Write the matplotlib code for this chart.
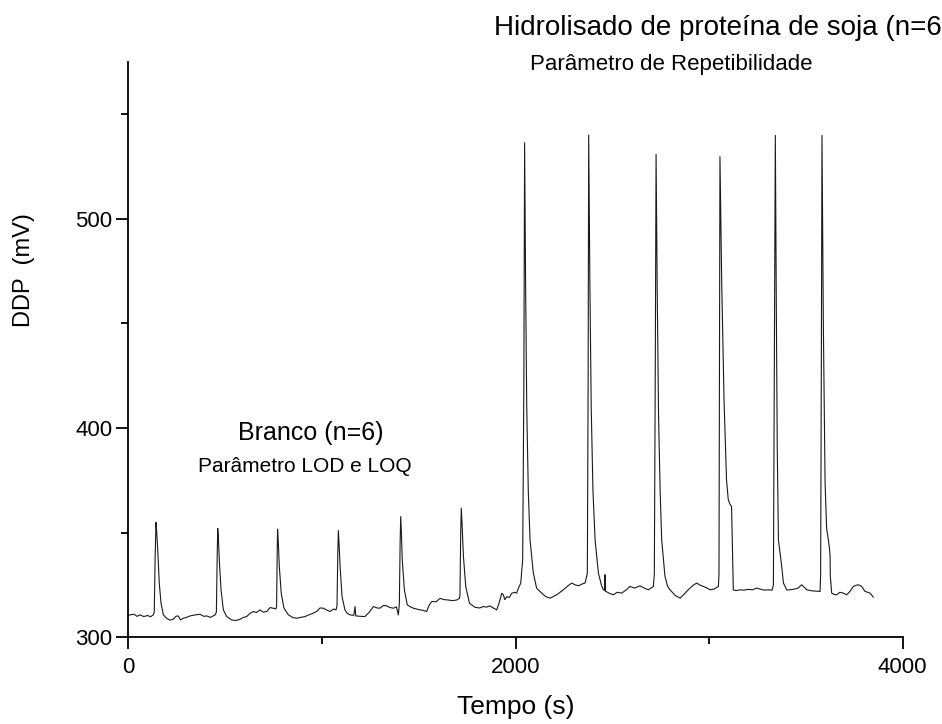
import matplotlib
matplotlib.use("Agg")
import matplotlib.pyplot as plt
from matplotlib.ticker import MultipleLocator

# Trace: time (s) and potential difference (mV)
time_s = [
    0, 9, 30, 45, 60, 80, 100, 115, 129,
    134, 139, 143, 147, 152, 160, 169, 181, 198,
    215, 232, 245, 258, 270, 284, 300, 319, 340, 370, 390, 405, 425, 448,
    455, 459, 462, 466, 470, 479, 491, 508, 534,
    555, 577, 595, 611, 630, 646, 662, 680, 697, 715, 732, 749, 763,
    766, 769, 771, 775, 780, 790, 804, 827, 850, 870,
    890, 913, 935, 956, 975, 990, 1007, 1025, 1042, 1060, 1073,
    1078, 1082, 1085, 1089, 1094, 1104, 1119, 1130, 1145, 1165, 1171, 1175, 1200, 1222,
    1245, 1266, 1285, 1300, 1318, 1334, 1352, 1369, 1385, 1395,
    1400, 1404, 1407, 1411, 1415, 1426, 1441, 1456, 1472, 1490, 1507, 1525, 1541,
    1555, 1567, 1590, 1610, 1630, 1653, 1675, 1696, 1710,
    1713, 1717, 1720, 1725, 1731, 1743, 1762, 1791, 1815, 1834, 1850, 1868, 1885, 1903,
    1915, 1929, 1937, 1945, 1955, 1968, 1980, 1995, 2006, 2015, 2027, 2037,
    2043, 2047, 2052, 2058, 2066, 2075, 2092, 2109, 2135, 2155, 2178, 2195, 2213,
    2230, 2247, 2270, 2290, 2310, 2325, 2345, 2359, 2371,
    2375, 2378, 2384, 2391, 2400, 2411, 2428, 2445, 2454, 2460, 2462, 2464, 2467,
    2485, 2505, 2525, 2548, 2570, 2591, 2615, 2643, 2665, 2686, 2700, 2712,
    2717, 2722, 2726, 2732, 2739, 2747, 2755, 2772, 2785, 2798, 2825, 2850, 2875,
    2901, 2920, 2936, 2955, 2970, 2990, 3005, 3025, 3048,
    3051, 3054, 3056, 3065, 3077, 3090, 3099, 3108, 3116, 3121, 3125,
    3140, 3160, 3180, 3200, 3225, 3245, 3265, 3285, 3305, 3325, 3332,
    3337, 3342, 3347, 3352, 3358, 3375, 3384, 3401, 3418, 3440, 3460, 3478, 3490,
    3504, 3530, 3555, 3573,
    3576, 3580, 3583, 3590, 3599, 3607, 3616, 3622, 3625, 3626, 3629, 3633, 3645,
    3659, 3675, 3693, 3711, 3728, 3745, 3758, 3771, 3788, 3805, 3820, 3831, 3848,
]
ddp_mv = [
    310.5, 310.7, 311.0, 310.0, 310.7, 309.9, 310.4, 309.8, 310.7,
    312.0, 340.0, 354.9, 350.0, 341.8, 325.8, 316.3, 310.7, 309.1,
    308.2, 308.6, 310.0, 310.2, 308.3, 309.1, 309.5, 310.2, 310.6, 311.0, 310.0, 310.2, 309.5, 310.7,
    312.0, 338.0, 352.0, 346.0, 337.0, 322.6, 313.1, 309.9, 308.3,
    308.0, 308.6, 309.5, 309.9, 311.5, 312.3, 311.8, 313.1, 312.0, 312.3, 314.2, 313.9, 313.6,
    315.0, 340.0, 351.7, 345.0, 333.8, 321.0, 313.9, 310.7, 309.4, 309.1,
    309.5, 309.9, 310.8, 311.5, 312.5, 314.0, 313.9, 313.0, 312.3, 313.5, 313.1,
    315.0, 340.0, 351.0, 344.0, 333.8, 319.4, 313.1, 311.5, 310.7, 310.5, 314.7, 310.2, 310.0, 309.9,
    312.0, 314.7, 314.0, 313.9, 315.2, 315.0, 314.2, 313.9, 314.5, 310.7,
    316.0, 345.0, 357.7, 349.0, 337.0, 322.6, 315.5, 314.6, 313.9, 313.5, 313.1, 312.8, 312.3,
    315.5, 317.1, 317.0, 318.6, 318.0, 317.8, 317.5, 317.8, 318.6,
    320.0, 350.0, 361.7, 352.0, 338.6, 324.2, 316.3, 314.3, 314.0, 314.7, 314.4, 315.0, 314.0, 313.1,
    316.3, 321.0, 320.3, 318.0, 319.4, 319.0, 321.0, 321.5, 321.1, 323.4, 325.9, 337.0,
    420.0, 536.4, 470.0, 410.0, 370.0, 346.6, 330.7, 323.5, 321.1, 319.5, 318.7, 319.5, 320.3,
    321.5, 322.7, 324.5, 325.9, 325.0, 324.6, 325.5, 325.9, 330.6,
    420.0, 540.0, 470.0, 410.0, 370.0, 346.6, 330.7, 324.5, 322.7, 322.5, 329.9, 322.0, 321.9,
    321.0, 320.3, 321.5, 321.1, 322.5, 324.3, 323.5, 324.6, 323.5, 322.7, 323.5, 324.3,
    330.0, 430.0, 530.8, 465.0, 405.0, 370.0, 346.6, 329.1, 324.5, 322.7, 320.0, 318.7, 321.0,
    323.5, 325.0, 325.9, 324.8, 324.3, 323.5, 322.7, 323.0, 324.3,
    330.0, 440.0, 529.7, 470.0, 413.5, 375.0, 365.7, 363.5, 362.5, 340.0, 322.6,
    322.3, 322.7, 322.5, 322.9, 322.7, 323.5, 323.0, 322.5, 322.7, 322.5, 325.0,
    430.0, 539.9, 460.0, 390.0, 346.6, 333.8, 325.9, 322.6, 322.7, 323.0, 323.5, 325.1, 324.0,
    322.7, 322.2, 322.0, 321.9,
    330.0, 440.0, 539.9, 450.0, 373.7, 352.0, 346.6, 342.0, 338.6, 329.0, 326.0, 321.1, 320.5,
    320.3, 321.5, 321.1, 320.3, 322.0, 324.3, 324.8, 325.1, 324.3, 321.9, 321.5, 321.1, 319.2,
]

x_ticks = [0, 2000, 4000]
y_ticks = [300, 400, 500]

plt.rcParams["font.family"] = ["Liberation Sans", "DejaVu Sans"]

fig = plt.figure(figsize=(9.42, 7.24), dpi=100)
ax = fig.add_axes([0.1362, 0.1198, 0.8221, 0.7947])

ax.plot(time_s, ddp_mv, color="#1a1a1a", lw=0.8)

ax.set_xlim(0, 4000)
ax.set_ylim(300, 575)
ax.set_xticks(x_ticks)
ax.set_yticks(y_ticks)
ax.xaxis.set_minor_locator(MultipleLocator(1000))
ax.yaxis.set_minor_locator(MultipleLocator(50))

for side in ("top", "right"):
    ax.spines[side].set_visible(False)
for side in ("left", "bottom"):
    ax.spines[side].set_linewidth(1.3)

ax.tick_params(which="major", direction="out", length=8.5, width=1.3, labelsize=16)
ax.tick_params(axis="x", which="major", pad=6)
ax.tick_params(axis="y", which="major", pad=3)
ax.tick_params(which="minor", direction="out", length=5, width=1.3)

ax.set_xlabel("Tempo (s)", fontsize=19)
ax.xaxis.set_label_coords(0.5, -0.1)
ax.set_ylabel("DDP  (mV)", fontsize=17)
ax.yaxis.set_label_coords(-0.12, 0.638)

# annotations (figure pixel positions converted to fractions);
# the top title is cut at "(n=6" in the source figure
fig.text(494 / 942, 1 - 35 / 724, "Hidrolisado de proteína de soja (n=6",
         fontsize=20, ha="left", va="baseline")
fig.text(530 / 942, 1 - 70 / 724, "Parâmetro de Repetibilidade",
         fontsize=16, ha="left", va="baseline")
fig.text(238 / 942, 1 - 440 / 724, "Branco (n=6)",
         fontsize=18, ha="left", va="baseline")
fig.text(198 / 942, 1 - 472 / 724, "Parâmetro LOD e LOQ",
         fontsize=15, ha="left", va="baseline")

fig.savefig("out.png", dpi=100)
